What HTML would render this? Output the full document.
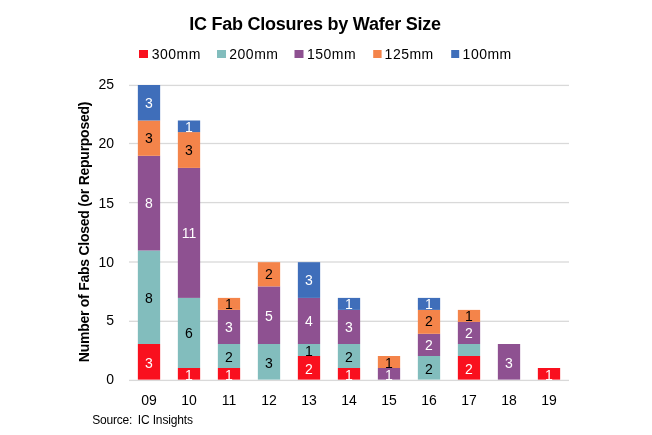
<!DOCTYPE html><html><head><meta charset="utf-8"><style>html,body{margin:0;padding:0;background:#fff;overflow:hidden}svg{display:block;will-change:transform}text{font-family:"Liberation Sans",sans-serif}</style></head><body>
<svg width="652" height="435" viewBox="0 0 652 435">
<rect width="652" height="435" fill="#fff"/>
<text x="315" y="29.5" text-anchor="middle" font-weight="bold" font-size="18" letter-spacing="-0.23" fill="#000">IC Fab Closures by Wafer Size</text>
<rect x="139" y="50" width="9" height="8" fill="#F9101E"/>
<text x="151.7" y="59" font-size="14" letter-spacing="0.5" fill="#000">300mm</text>
<rect x="217" y="50" width="9" height="8" fill="#82BDBD"/>
<text x="229.3" y="59" font-size="14" letter-spacing="0.5" fill="#000">200mm</text>
<rect x="294.5" y="50" width="9" height="8" fill="#8E5191"/>
<text x="306.9" y="59" font-size="14" letter-spacing="0.5" fill="#000">150mm</text>
<rect x="373.2" y="50" width="8.4" height="8" fill="#F4844A"/>
<text x="384.6" y="59" font-size="14" letter-spacing="0.5" fill="#000">125mm</text>
<rect x="451.2" y="50" width="8" height="8" fill="#3F6EBA"/>
<text x="462.6" y="59" font-size="14" letter-spacing="0.5" fill="#000">100mm</text>
<rect x="129" y="379.75" width="440" height="1.3" fill="#D9D9D9"/>
<text x="114" y="384.4" text-anchor="end" font-size="14" fill="#000">0</text>
<rect x="129" y="320.65" width="440" height="1.3" fill="#D9D9D9"/>
<text x="114" y="325.4" text-anchor="end" font-size="14" fill="#000">5</text>
<rect x="129" y="261.35" width="440" height="1.3" fill="#D9D9D9"/>
<text x="114" y="267.4" text-anchor="end" font-size="14" fill="#000">10</text>
<rect x="129" y="201.95" width="440" height="1.3" fill="#D9D9D9"/>
<text x="114" y="208.4" text-anchor="end" font-size="14" fill="#000">15</text>
<rect x="129" y="142.85" width="440" height="1.3" fill="#D9D9D9"/>
<text x="114" y="148.4" text-anchor="end" font-size="14" fill="#000">20</text>
<rect x="129" y="84.75" width="440" height="1.3" fill="#D9D9D9"/>
<text x="114" y="89.4" text-anchor="end" font-size="14" fill="#000">25</text>
<rect x="137.85" y="344.00" width="22.3" height="35.60" fill="#F9101E"/>
<rect x="137.85" y="250.50" width="22.3" height="93.50" fill="#82BDBD"/>
<rect x="137.85" y="155.80" width="22.3" height="94.70" fill="#8E5191"/>
<rect x="137.85" y="120.50" width="22.3" height="35.30" fill="#F4844A"/>
<rect x="137.85" y="85.00" width="22.3" height="35.50" fill="#3F6EBA"/>
<text x="149.0" y="367.81" text-anchor="middle" font-size="14" fill="#fff">3</text>
<text x="149.0" y="302.86" text-anchor="middle" font-size="14" fill="#000">8</text>
<text x="149.0" y="208.40" text-anchor="middle" font-size="14" fill="#fff">8</text>
<text x="149.0" y="143.46" text-anchor="middle" font-size="14" fill="#000">3</text>
<text x="149.0" y="108.03" text-anchor="middle" font-size="14" fill="#fff">3</text>
<text x="149.0" y="405" text-anchor="middle" font-size="14" fill="#000">09</text>
<rect x="177.85" y="368.00" width="22.3" height="11.60" fill="#F9101E"/>
<rect x="177.85" y="297.90" width="22.3" height="70.10" fill="#82BDBD"/>
<rect x="177.85" y="167.90" width="22.3" height="130.00" fill="#8E5191"/>
<rect x="177.85" y="132.10" width="22.3" height="35.80" fill="#F4844A"/>
<rect x="177.85" y="120.50" width="22.3" height="11.60" fill="#3F6EBA"/>
<text x="189.0" y="379.62" text-anchor="middle" font-size="14" fill="#fff">1</text>
<text x="189.0" y="338.29" text-anchor="middle" font-size="14" fill="#000">6</text>
<text x="189.0" y="237.92" text-anchor="middle" font-size="14" fill="#fff">11</text>
<text x="189.0" y="155.26" text-anchor="middle" font-size="14" fill="#000">3</text>
<text x="189.0" y="131.65" text-anchor="middle" font-size="14" fill="#fff">1</text>
<text x="189.0" y="405" text-anchor="middle" font-size="14" fill="#000">10</text>
<rect x="217.85" y="368.00" width="22.3" height="11.60" fill="#F9101E"/>
<rect x="217.85" y="344.00" width="22.3" height="24.00" fill="#82BDBD"/>
<rect x="217.85" y="309.90" width="22.3" height="34.10" fill="#8E5191"/>
<rect x="217.85" y="297.90" width="22.3" height="12.00" fill="#F4844A"/>
<text x="229.0" y="379.62" text-anchor="middle" font-size="14" fill="#fff">1</text>
<text x="229.0" y="361.90" text-anchor="middle" font-size="14" fill="#000">2</text>
<text x="229.0" y="332.38" text-anchor="middle" font-size="14" fill="#fff">3</text>
<text x="229.0" y="308.77" text-anchor="middle" font-size="14" fill="#000">1</text>
<text x="229.0" y="405" text-anchor="middle" font-size="14" fill="#000">11</text>
<rect x="257.85" y="344.00" width="22.3" height="35.60" fill="#82BDBD"/>
<rect x="257.85" y="286.40" width="22.3" height="57.60" fill="#8E5191"/>
<rect x="257.85" y="262.20" width="22.3" height="24.20" fill="#F4844A"/>
<text x="269.0" y="367.81" text-anchor="middle" font-size="14" fill="#000">3</text>
<text x="269.0" y="320.58" text-anchor="middle" font-size="14" fill="#fff">5</text>
<text x="269.0" y="279.25" text-anchor="middle" font-size="14" fill="#000">2</text>
<text x="269.0" y="405" text-anchor="middle" font-size="14" fill="#000">12</text>
<rect x="297.85" y="356.00" width="22.3" height="23.60" fill="#F9101E"/>
<rect x="297.85" y="344.00" width="22.3" height="12.00" fill="#82BDBD"/>
<rect x="297.85" y="297.90" width="22.3" height="46.10" fill="#8E5191"/>
<rect x="297.85" y="262.20" width="22.3" height="35.70" fill="#3F6EBA"/>
<text x="309.0" y="373.71" text-anchor="middle" font-size="14" fill="#fff">2</text>
<text x="309.0" y="356.00" text-anchor="middle" font-size="14" fill="#000">1</text>
<text x="309.0" y="326.48" text-anchor="middle" font-size="14" fill="#fff">4</text>
<text x="309.0" y="285.15" text-anchor="middle" font-size="14" fill="#fff">3</text>
<text x="309.0" y="405" text-anchor="middle" font-size="14" fill="#000">13</text>
<rect x="337.85" y="368.00" width="22.3" height="11.60" fill="#F9101E"/>
<rect x="337.85" y="344.00" width="22.3" height="24.00" fill="#82BDBD"/>
<rect x="337.85" y="309.90" width="22.3" height="34.10" fill="#8E5191"/>
<rect x="337.85" y="297.90" width="22.3" height="12.00" fill="#3F6EBA"/>
<text x="349.0" y="379.62" text-anchor="middle" font-size="14" fill="#fff">1</text>
<text x="349.0" y="361.90" text-anchor="middle" font-size="14" fill="#000">2</text>
<text x="349.0" y="332.38" text-anchor="middle" font-size="14" fill="#fff">3</text>
<text x="349.0" y="308.77" text-anchor="middle" font-size="14" fill="#fff">1</text>
<text x="349.0" y="405" text-anchor="middle" font-size="14" fill="#000">14</text>
<rect x="377.85" y="368.00" width="22.3" height="11.60" fill="#8E5191"/>
<rect x="377.85" y="356.00" width="22.3" height="12.00" fill="#F4844A"/>
<text x="389.0" y="379.62" text-anchor="middle" font-size="14" fill="#fff">1</text>
<text x="389.0" y="367.81" text-anchor="middle" font-size="14" fill="#000">1</text>
<text x="389.0" y="405" text-anchor="middle" font-size="14" fill="#000">15</text>
<rect x="417.85" y="356.00" width="22.3" height="23.60" fill="#82BDBD"/>
<rect x="417.85" y="333.80" width="22.3" height="22.20" fill="#8E5191"/>
<rect x="417.85" y="309.90" width="22.3" height="23.90" fill="#F4844A"/>
<rect x="417.85" y="297.90" width="22.3" height="12.00" fill="#3F6EBA"/>
<text x="429.0" y="373.71" text-anchor="middle" font-size="14" fill="#000">2</text>
<text x="429.0" y="350.10" text-anchor="middle" font-size="14" fill="#fff">2</text>
<text x="429.0" y="326.48" text-anchor="middle" font-size="14" fill="#000">2</text>
<text x="429.0" y="308.77" text-anchor="middle" font-size="14" fill="#fff">1</text>
<text x="429.0" y="405" text-anchor="middle" font-size="14" fill="#000">16</text>
<rect x="457.85" y="356.00" width="22.3" height="23.60" fill="#F9101E"/>
<rect x="457.85" y="344.00" width="22.3" height="12.00" fill="#82BDBD"/>
<rect x="457.85" y="321.90" width="22.3" height="22.10" fill="#8E5191"/>
<rect x="457.85" y="309.90" width="22.3" height="12.00" fill="#F4844A"/>
<text x="469.0" y="373.71" text-anchor="middle" font-size="14" fill="#fff">2</text>
<text x="469.0" y="338.29" text-anchor="middle" font-size="14" fill="#fff">2</text>
<text x="469.0" y="320.58" text-anchor="middle" font-size="14" fill="#000">1</text>
<text x="469.0" y="405" text-anchor="middle" font-size="14" fill="#000">17</text>
<rect x="497.85" y="344.00" width="22.3" height="35.60" fill="#8E5191"/>
<text x="509.0" y="367.81" text-anchor="middle" font-size="14" fill="#fff">3</text>
<text x="509.0" y="405" text-anchor="middle" font-size="14" fill="#000">18</text>
<rect x="537.85" y="368.00" width="22.3" height="11.60" fill="#F9101E"/>
<text x="549.0" y="379.62" text-anchor="middle" font-size="14" fill="#fff">1</text>
<text x="549.0" y="405" text-anchor="middle" font-size="14" fill="#000">19</text>
<text transform="translate(89,232) rotate(-90)" x="0" y="0" text-anchor="middle" font-weight="bold" font-size="14" letter-spacing="-0.26" fill="#000">Number of Fabs Closed (or Repurposed)</text>
<text x="92.2" y="424" font-size="12" letter-spacing="-0.2" fill="#000">Source:</text>
<text x="137.8" y="424" font-size="12" letter-spacing="-0.15" fill="#000">IC Insights</text>
</svg></body></html>
